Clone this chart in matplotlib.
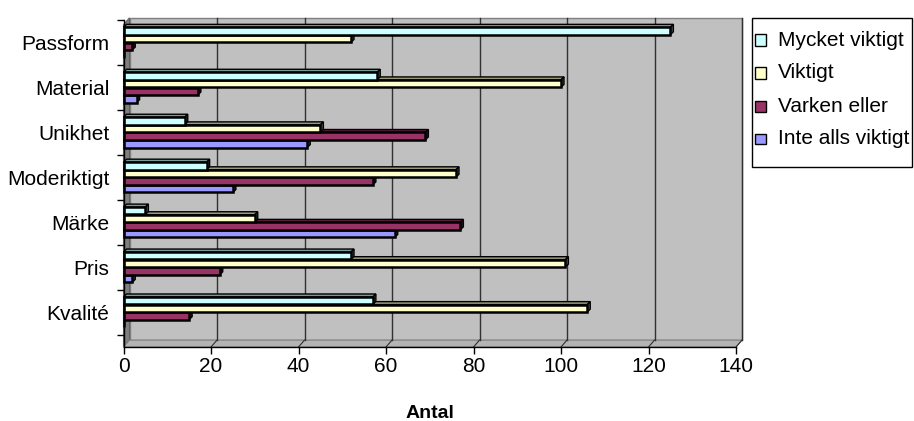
import matplotlib
matplotlib.use("Agg")
import matplotlib.pyplot as plt
from matplotlib.patches import Polygon, Rectangle
import numpy as np

plt.rcParams['font.family'] = ['Liberation Sans', 'DejaVu Sans']

categories = ["Passform", "Material", "Unikhet", "Moderiktigt", "Märke", "Pris", "Kvalité"]
series_names = ["Mycket viktigt", "Viktigt", "Varken eller", "Inte alls viktigt"]
mycket_viktigt = [125, 58, 14, 19, 5, 52, 57]
viktigt = [52, 100, 45, 76, 30, 101, 106]
varken_eller = [2, 17, 69, 57, 77, 22, 15]
inte_alls_viktigt = [0, 3, 42, 25, 62, 2, 0]
x_ticks = [0, 20, 40, 60, 80, 100, 120, 140]

series = [mycket_viktigt, viktigt, varken_eller, inte_alls_viktigt]
colors = ["#CCFFFF", "#FFFFCC", "#993366", "#9999FF"]

W, H = 914, 421
fig = plt.figure(figsize=(W / 100, H / 100), dpi=100)

# front face of the plot box in pixels
left_px, right_px, top_px, bot_px = 123.5, 736, 20, 347
ax = fig.add_axes([left_px / W, 1 - bot_px / H, (right_px - left_px) / W, (bot_px - top_px) / H])

cat_px = 45.6          # pixels per category
first_px = 18          # front top to first category centre
ymin = -first_px / cat_px
ymax = ymin + (bot_px - top_px) / cat_px
ax.set_xlim(0, 140)
ax.set_ylim(ymax, ymin)
ax.set_facecolor("none")

px_x = (right_px - left_px) / 140.0
px_y = cat_px

# depth of the 3d box
dx = 6 / px_x
dy = 7 / px_y

def poly(pts, fc, ec="none", lw=0.8, z=1):
    ax.add_patch(Polygon(pts, closed=True, facecolor=fc, edgecolor=ec, linewidth=lw,
                         clip_on=False, zorder=z))

# back wall, side wall, floor
poly([(dx, ymin - dy), (140 + dx, ymin - dy), (140 + dx, ymax - dy), (dx, ymax - dy)],
     "#C0C0C0", "#808080", 1.0, 0)
poly([(0, ymin), (dx, ymin - dy), (dx, ymax - dy), (0, ymax)], "#808080", "#606060", 0.8, 0.5)
poly([(0, ymax), (140, ymax), (140 + dx, ymax - dy), (dx, ymax - dy)], "#B4B4B4", "#808080", 0.8, 0.5)

for xv in x_ticks[1:]:
    ax.plot([xv + dx, xv + dx], [ymin - dy, ymax - dy], color="#303030", lw=1.0,
            clip_on=False, zorder=0.6)
    ax.plot([xv, xv + dx], [ymax, ymax - dy], color="#303030", lw=0.8,
            clip_on=False, zorder=0.6)

# 3d bars
bar_h = 0.165
step = 0.17
d_x = 3 / px_x
d_y = 3 / px_y

def shade(c, f):
    r, g, b = matplotlib.colors.to_rgb(c)
    return (r * f, g * f, b * f)

for i in range(len(categories)):
    for j in reversed(range(len(series))):
        v = series[j][i]
        yc = i + (j - 1.5) * step
        yt, yb = yc - bar_h / 2, yc + bar_h / 2
        z = 2 + (3 - j) * 0.1
        if v > 0:
            poly([(0, yt), (v, yt), (v + d_x, yt - d_y), (d_x, yt - d_y)],
                 shade(colors[j], 0.6), "black", 1.0, z)
            poly([(v, yt), (v, yb), (v + d_x, yb - d_y), (v + d_x, yt - d_y)],
                 shade(colors[j], 0.35), "black", 1.0, z)
        ax.barh(yc, v, height=bar_h, color=colors[j], edgecolor="black", linewidth=1.8,
                zorder=z + 0.05, clip_on=False)

# axes lines and ticks
for s in ["top", "right"]:
    ax.spines[s].set_visible(False)
ax.spines["left"].set_linewidth(1.0)
ax.spines["bottom"].set_linewidth(1.0)
ax.spines["left"].set_zorder(5)
ax.spines["bottom"].set_zorder(5)

ax.set_xticks(x_ticks)
ax.set_xticklabels([str(t) for t in x_ticks])
ax.tick_params(axis="x", length=5, width=1, labelsize=15, pad=2)

ax.set_yticks(np.arange(len(categories)))
ax.set_yticklabels(categories)
ax.set_yticks(np.arange(len(categories) + 1) - 0.5, minor=True)
ax.tick_params(axis="y", which="major", length=0, labelsize=15, pad=10)
ax.tick_params(axis="y", which="minor", length=5, width=1)

ax.set_xlabel("Antal", fontsize=14, fontweight="bold", labelpad=21)

# legend box drawn in figure pixels
def fx(p):
    return p / W

def fy(p):
    return 1 - p / H

fig.add_artist(Rectangle((fx(752), fy(167)), fx(912) - fx(752), fy(18) - fy(167),
                         transform=fig.transFigure, facecolor="white", edgecolor="black",
                         linewidth=1.0))
for k, (name, c) in enumerate(zip(series_names, colors)):
    yc = 40 + 33 * k
    fig.add_artist(Rectangle((fx(755), fy(yc + 5.5)), fx(766) - fx(755), fy(yc - 5.5) - fy(yc + 5.5),
                             transform=fig.transFigure, facecolor=c, edgecolor="black",
                             linewidth=1.0))
    fig.text(fx(778), fy(yc), name, fontsize=15, va="center", ha="left")

fig.savefig("out.png", dpi=100, facecolor="white")
